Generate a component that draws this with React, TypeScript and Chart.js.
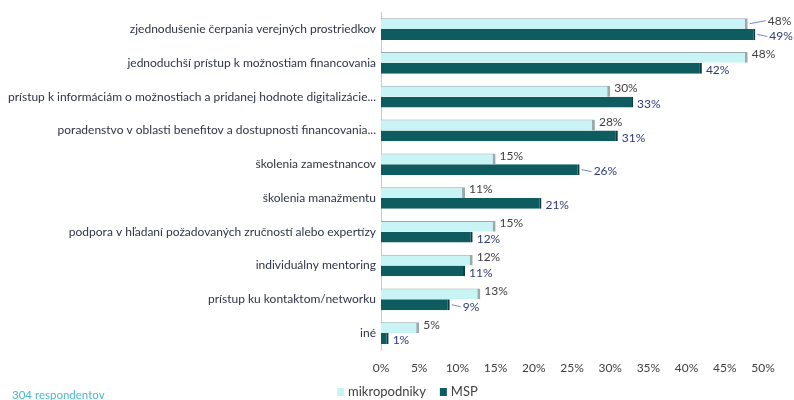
import React, { useEffect, useRef } from "react";
import { Chart, registerables } from "chart.js";

Chart.register(...registerables);

const categories = [
  "zjednodušenie čerpania verejných prostriedkov",
  "jednoduchší prístup k možnostiam financovania",
  "prístup k informáciám o možnostiach a pridanej hodnote digitalizácie...",
  "poradenstvo v oblasti benefitov a dostupnosti financovania...",
  "školenia zamestnancov",
  "školenia manažmentu",
  "podpora v hľadaní požadovaných zručností alebo expertízy",
  "individuálny mentoring",
  "prístup ku kontaktom/networku",
  "iné",
];
const mikroValues = [48, 48, 30, 28, 15, 11, 15, 12, 13, 5];
const mspValues = [49, 42, 33, 31, 26, 21, 12, 11, 9, 1];
const seriesNames = ["mikropodniky", "MSP"];
const footnote = "304 respondentov";

const FONT = "Lato, 'Open Sans', sans-serif";
const LIGHT = "#c9f4f6";
const DARK = "#0e5b60";

// extra horizontal gap (px) for labels with leader lines, keyed "dataset-index"
const leaderGaps: Record<string, number> = { "0-0": 16, "1-0": 10, "1-4": 10, "1-8": 9 };

const labelPlugin = {
  id: "barLabels",
  afterDatasetsDraw(chart: any) {
    const ctx = chart.ctx;
    ctx.save();
    ctx.font = `12px ${FONT}`;
    ctx.textBaseline = "middle";
    ctx.textAlign = "left";
    chart.data.datasets.forEach((ds: any, di: number) => {
      const meta = chart.getDatasetMeta(di);
      meta.data.forEach((el: any, i: number) => {
        const gap = leaderGaps[`${di}-${i}`] || 0;
        const dy = di === 0 ? -3 : 2;
        const x = el.x + 4 + gap;
        const y = el.y + dy;
        if (gap) {
          ctx.strokeStyle = "#6f86d0";
          ctx.lineWidth = 1;
          ctx.beginPath();
          ctx.moveTo(el.x + 2, el.y);
          ctx.lineTo(x - 2, y);
          ctx.stroke();
        }
        ctx.fillStyle = di === 0 ? "#3f3f3f" : "#2f3b7a";
        ctx.fillText(ds.data[i] + "%", x, y);
      });
    });
    ctx.restore();
  },
};

const extrasPlugin = {
  id: "extras",
  afterDraw(chart: any) {
    const ctx = chart.ctx;
    ctx.save();
    // legend
    ctx.font = `13px ${FONT}`;
    ctx.textBaseline = "middle";
    ctx.textAlign = "left";
    const colors = [LIGHT, DARK];
    let x = 337;
    const y = 392;
    seriesNames.forEach((name, i) => {
      ctx.fillStyle = colors[i];
      ctx.fillRect(x, y - 4, 7, 8);
      ctx.fillStyle = "#3f3f3f";
      ctx.fillText(name, x + 11, y);
      x += 11 + ctx.measureText(name).width + 14;
    });
    // footnote
    ctx.font = `11.5px ${FONT}`;
    ctx.fillStyle = "#4bb8c8";
    ctx.textBaseline = "top";
    ctx.fillText(footnote, 12, 390);
    ctx.restore();
  },
};

export default function App() {
  const ref = useRef<HTMLCanvasElement>(null);
  useEffect(() => {
    if (!ref.current) return;
    const chart = new Chart(ref.current, {
      type: "bar",
      data: {
        labels: categories,
        datasets: [
          {
            label: seriesNames[0],
            data: mikroValues,
            backgroundColor: LIGHT,
            borderColor: "#97abab",
            borderWidth: { top: 1, right: 3, bottom: 0, left: 0 },
            borderSkipped: false,
            categoryPercentage: 0.64,
            barPercentage: 1,
          },
          {
            label: seriesNames[1],
            data: mspValues,
            backgroundColor: DARK,
            borderColor: "#073d40",
            borderWidth: { top: 0, right: 2, bottom: 0, left: 0 },
            borderSkipped: false,
            categoryPercentage: 0.64,
            barPercentage: 1,
          },
        ],
      },
      options: {
        indexAxis: "y",
        responsive: false,
        animation: false,
        layout: { padding: { top: 12, right: 31, left: 0, bottom: 0 } },
        plugins: {
          legend: { display: false },
          tooltip: { enabled: false },
        },
        scales: {
          x: {
            min: 0,
            max: 50,
            grid: { display: false, drawTicks: false },
            border: { display: false },
            ticks: {
              stepSize: 5,
              padding: 11,
              color: "#404040",
              font: { family: FONT, size: 12 },
              callback: (v: any) => v + "%",
            },
            afterFit: (s: any) => {
              s.height = 50;
            },
          },
          y: {
            grid: { display: false, drawTicks: false },
            border: { display: true, color: "#c3cbe3", width: 1 },
            ticks: {
              autoSkip: false,
              padding: 5,
              color: "#2f3545",
              font: { family: FONT, size: 12 },
            },
            afterFit: (s: any) => {
              s.width = 381;
            },
          },
        },
      },
      plugins: [labelPlugin, extrasPlugin],
    });
    return () => chart.destroy();
  }, []);
  return (
    <div style={{ position: "fixed", left: 0, top: 0, width: 794, height: 400, background: "#fff" }}>
      <canvas ref={ref} width={794} height={400} />
    </div>
  );
}
